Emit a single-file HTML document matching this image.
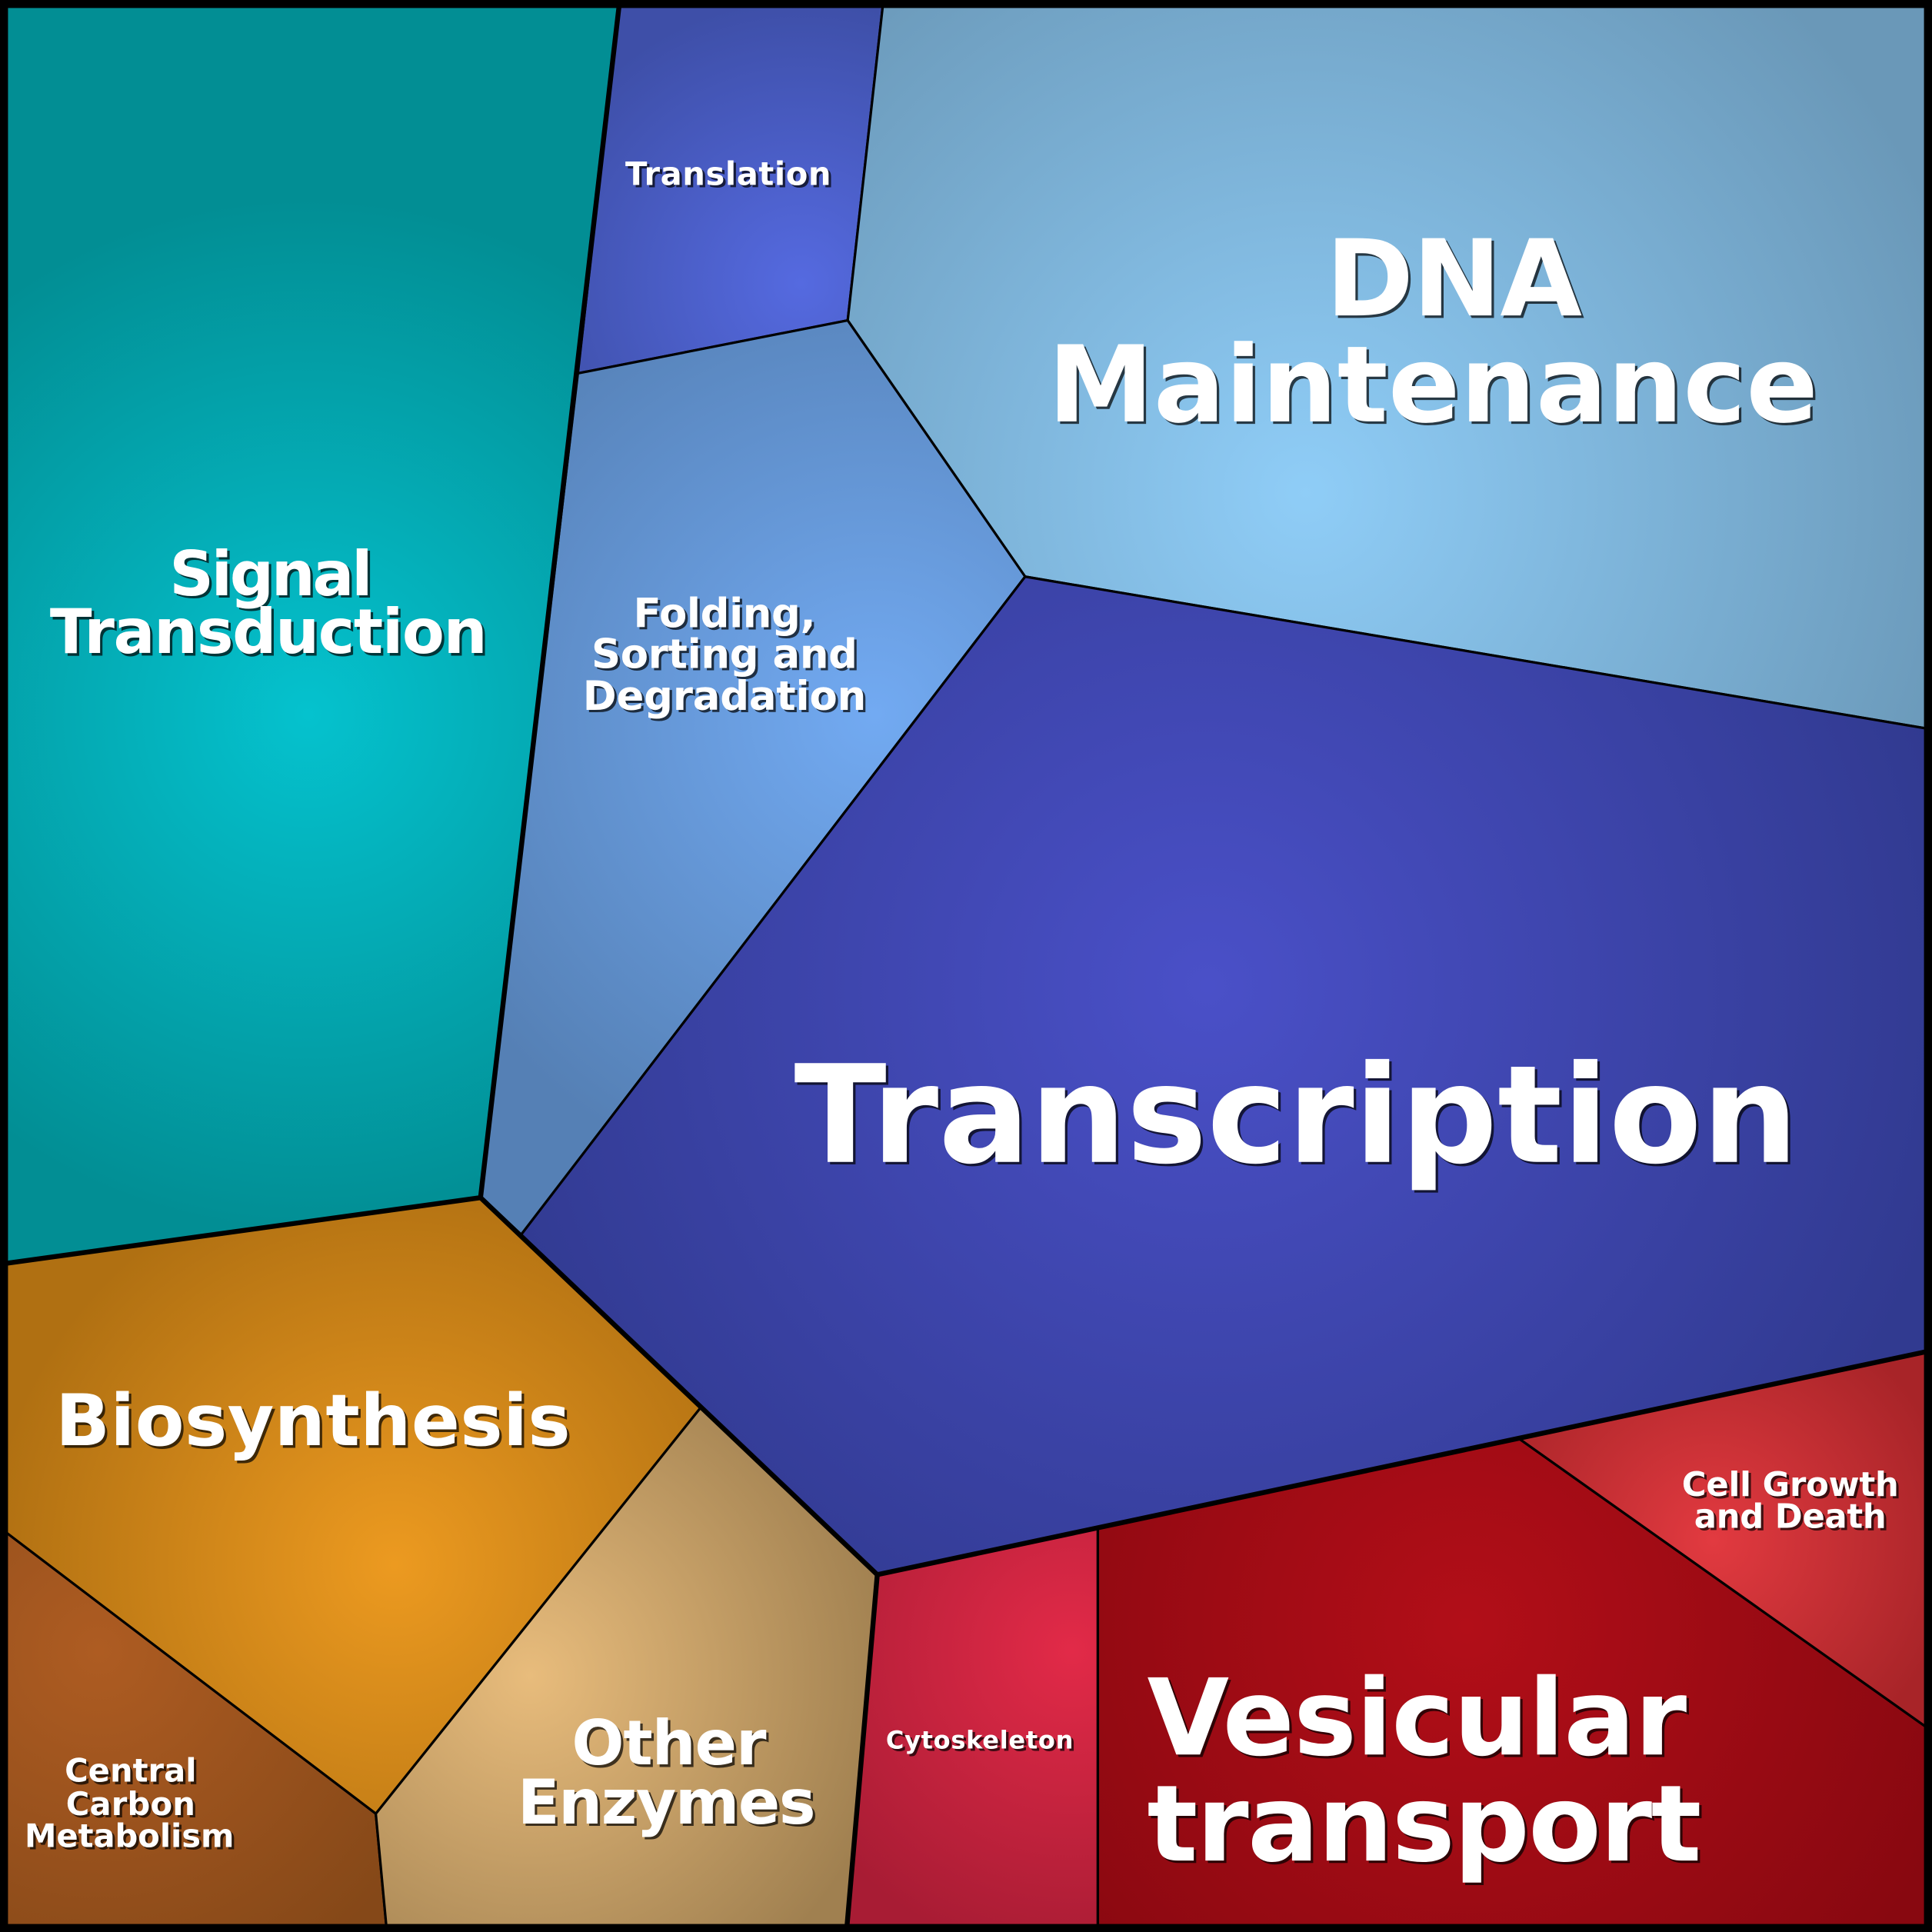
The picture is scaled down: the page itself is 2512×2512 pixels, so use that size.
<!DOCTYPE html>
<html><head><meta charset="utf-8"><style>html,body{margin:0;padding:0;background:#000}svg{display:block}</style></head>
<body>
<svg width="2512" height="2512" viewBox="0 0 1568 1568" xmlns="http://www.w3.org/2000/svg">
<defs>
<radialGradient id="gS" gradientUnits="userSpaceOnUse" cx="250" cy="580" r="420"><stop offset="0" stop-color="#05c2ce"/><stop offset="1" stop-color="#028e94"/></radialGradient>
<radialGradient id="gT" gradientUnits="userSpaceOnUse" cx="650" cy="230" r="230"><stop offset="0" stop-color="#556ae0"/><stop offset="1" stop-color="#3e4fa8"/></radialGradient>
<radialGradient id="gD" gradientUnits="userSpaceOnUse" cx="1060" cy="400" r="560"><stop offset="0" stop-color="#8fcdf7"/><stop offset="1" stop-color="#6a98b8"/></radialGradient>
<radialGradient id="gF" gradientUnits="userSpaceOnUse" cx="710" cy="580" r="400"><stop offset="0" stop-color="#72aaf2"/><stop offset="1" stop-color="#5580b5"/></radialGradient>
<radialGradient id="gTr" gradientUnits="userSpaceOnUse" cx="980" cy="800" r="620"><stop offset="0" stop-color="#4a50c8"/><stop offset="1" stop-color="#313a90"/></radialGradient>
<radialGradient id="gB" gradientUnits="userSpaceOnUse" cx="320" cy="1270" r="330"><stop offset="0" stop-color="#ec9a20"/><stop offset="1" stop-color="#b07012"/></radialGradient>
<radialGradient id="gC" gradientUnits="userSpaceOnUse" cx="80" cy="1340" r="300"><stop offset="0" stop-color="#ae5c22"/><stop offset="1" stop-color="#854818"/></radialGradient>
<radialGradient id="gO" gradientUnits="userSpaceOnUse" cx="430" cy="1360" r="300"><stop offset="0" stop-color="#e8bc7c"/><stop offset="1" stop-color="#a08050"/></radialGradient>
<radialGradient id="gCy" gradientUnits="userSpaceOnUse" cx="870" cy="1340" r="250"><stop offset="0" stop-color="#e22a48"/><stop offset="1" stop-color="#a81c34"/></radialGradient>
<radialGradient id="gV" gradientUnits="userSpaceOnUse" cx="1190" cy="1320" r="420"><stop offset="0" stop-color="#b20e18"/><stop offset="1" stop-color="#880810"/></radialGradient>
<radialGradient id="gCg" gradientUnits="userSpaceOnUse" cx="1390" cy="1250" r="200"><stop offset="0" stop-color="#e23a40"/><stop offset="1" stop-color="#a82428"/></radialGradient>
</defs>
<g stroke="#000" stroke-width="2" stroke-linejoin="round">
<polygon fill="url(#gS)" points="0,0 503,0 469,303 390,972 0,1026"/>
<polygon fill="url(#gT)" points="503,0 717,0 688,260 469,303"/>
<polygon fill="url(#gD)" points="717,0 1568,0 1568,592 832,468 688,260"/>
<polygon fill="url(#gF)" points="469,303 688,260 832,468 423,1002 390,972"/>
<polygon fill="url(#gTr)" points="832,468 1568,592 1568,1096 1232,1167 891,1240 712,1278 569,1142 423,1002"/>
<polygon fill="url(#gB)" points="0,1026 390,972 423,1002 569,1142 305,1472 0,1240"/>
<polygon fill="url(#gC)" points="0,1240 305,1472 314,1568 0,1568"/>
<polygon fill="url(#gO)" points="305,1472 569,1142 712,1278 687,1568 314,1568"/>
<polygon fill="url(#gCy)" points="712,1278 891,1240 891,1568 687,1568"/>
<polygon fill="url(#gV)" points="891,1240 1232,1167 1568,1405 1568,1568 891,1568"/>
<polygon fill="url(#gCg)" points="1232,1167 1568,1096 1568,1405"/>
</g>
<g stroke="#000" stroke-width="4" fill="none" stroke-linejoin="round">
<polyline points="503,0 390,972 0,1026"/>
<polyline points="390,972 712,1278 1568,1096"/>
<polyline points="712,1278 687,1568"/>
</g>
<rect x="3" y="3" width="1562" height="1562" fill="none" stroke="#000" stroke-width="7"/>
<g font-family="DejaVu Sans, Liberation Sans, sans-serif" font-weight="bold" text-anchor="middle" lengthAdjust="spacingAndGlyphs">
<g fill="#000" opacity="0.7" transform="translate(2,2)">
<text x="220" y="483" font-size="50" textLength="165">Signal</text>
<text x="218" y="530" font-size="50" textLength="355">Transduction</text>
<text x="591" y="150" font-size="26" textLength="167">Translation</text>
<text x="1180" y="256" font-size="86" textLength="208">DNA</text>
<text x="1163" y="342" font-size="86" textLength="625">Maintenance</text>
<text x="588" y="509" font-size="33" textLength="148">Folding,</text>
<text x="588" y="542" font-size="33" textLength="216">Sorting and</text>
<text x="588" y="576" font-size="33" textLength="230">Degradation</text>
<text x="1052" y="943" font-size="110" textLength="815">Transcription</text>
<text x="254" y="1173" font-size="58" textLength="418">Biosynthesis</text>
<text x="543" y="1432" font-size="50" textLength="158">Other</text>
<text x="541" y="1480" font-size="50" textLength="242">Enzymes</text>
<text x="1453" y="1214" font-size="27" textLength="176">Cell Growth</text>
<text x="1453" y="1240" font-size="27" textLength="156">and Death</text>
<text x="1150" y="1424" font-size="86" textLength="438">Vesicular</text>
<text x="1156" y="1510" font-size="86" textLength="450">transport</text>
<text x="106" y="1446" font-size="26" textLength="107">Central</text>
<text x="106" y="1473" font-size="26" textLength="105">Carbon</text>
<text x="105" y="1499" font-size="26" textLength="170">Metabolism</text>
<text x="795" y="1419" font-size="20" textLength="152">Cytoskeleton</text>
</g>
<g fill="#fff">
<text x="220" y="483" font-size="50" textLength="165">Signal</text>
<text x="218" y="530" font-size="50" textLength="355">Transduction</text>
<text x="591" y="150" font-size="26" textLength="167">Translation</text>
<text x="1180" y="256" font-size="86" textLength="208">DNA</text>
<text x="1163" y="342" font-size="86" textLength="625">Maintenance</text>
<text x="588" y="509" font-size="33" textLength="148">Folding,</text>
<text x="588" y="542" font-size="33" textLength="216">Sorting and</text>
<text x="588" y="576" font-size="33" textLength="230">Degradation</text>
<text x="1052" y="943" font-size="110" textLength="815">Transcription</text>
<text x="254" y="1173" font-size="58" textLength="418">Biosynthesis</text>
<text x="543" y="1432" font-size="50" textLength="158">Other</text>
<text x="541" y="1480" font-size="50" textLength="242">Enzymes</text>
<text x="1453" y="1214" font-size="27" textLength="176">Cell Growth</text>
<text x="1453" y="1240" font-size="27" textLength="156">and Death</text>
<text x="1150" y="1424" font-size="86" textLength="438">Vesicular</text>
<text x="1156" y="1510" font-size="86" textLength="450">transport</text>
<text x="106" y="1446" font-size="26" textLength="107">Central</text>
<text x="106" y="1473" font-size="26" textLength="105">Carbon</text>
<text x="105" y="1499" font-size="26" textLength="170">Metabolism</text>
<text x="795" y="1419" font-size="20" textLength="152">Cytoskeleton</text>
</g>
</g>
</svg>
</body></html>
